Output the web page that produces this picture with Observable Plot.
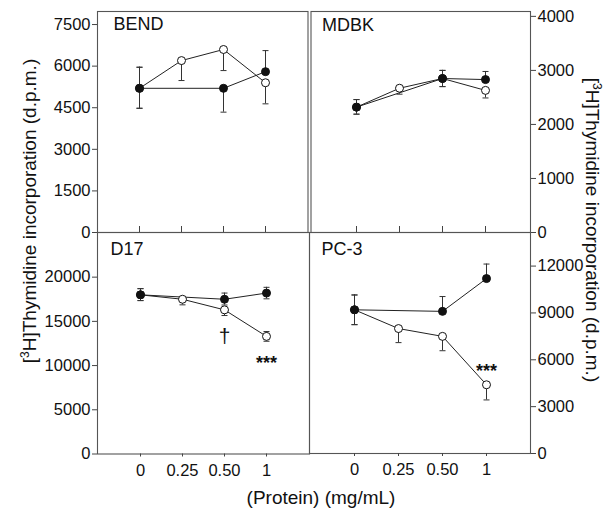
<!DOCTYPE html>
<html><head><meta charset="utf-8">
<script src="https://cdn.jsdelivr.net/npm/d3@7"></script>
<script src="https://cdn.jsdelivr.net/npm/@observablehq/plot@0.6"></script>
<style>
html,body{margin:0;padding:0;background:#fff;}
#chart{position:relative;width:610px;height:508px;font-family:"Liberation Sans",Arial,Helvetica,sans-serif;color:#111;background:#fff;}
#chart svg{position:absolute;left:0;top:0;}
.t{position:absolute;white-space:nowrap;font-size:19px;line-height:1;color:#111;}
.t sup{font-size:12px;vertical-align:0;position:relative;top:-7px;}
</style></head><body>
<div id="chart"></div>
<script>
const doses = ["0", "0.25", "0.50", "1"];

// BEND (top-left)
const bendFilledDose = ["0", "0.50", "1"];
const bendFilled   = [5200, 5200, 5800];
const bendFilledLo = [4480, 4340, 5800];
const bendFilledHi = [5960, 5200, 6560];
const bendOpenDose = ["0", "0.25", "0.50", "1"];
const bendOpen   = [5200, 6200, 6600, 5400];
const bendOpenLo = [4480, 5480, 5840, 4640];
const bendOpenHi = [5960, 6200, 6600, 5400];
const bendTicks = [0, 1500, 3000, 4500, 6000, 7500];

// MDBK (top-right)
const mdbkFilledDose = ["0", "0.50", "1"];
const mdbkFilled   = [2320, 2850, 2830];
const mdbkFilledLo = [2190, 2700, 2830];
const mdbkFilledHi = [2460, 3000, 2980];
const mdbkOpenDose = ["0", "0.25", "0.50", "1"];
const mdbkOpen   = [2320, 2670, 2850, 2630];
const mdbkOpenLo = [2190, 2560, 2700, 2490];
const mdbkOpenHi = [2460, 2670, 3000, 2630];
const mdbkTicks = [0, 1000, 2000, 3000, 4000];

// D17 (bottom-left)
const d17FilledDose = ["0", "0.50", "1"];
const d17Filled   = [18000, 17500, 18200];
const d17FilledLo = [17350, 16850, 17550];
const d17FilledHi = [18700, 18200, 18850];
const d17OpenDose = ["0", "0.25", "0.50", "1"];
const d17Open   = [18000, 17500, 16300, 13300];
const d17OpenLo = [17350, 16870, 15660, 12750];
const d17OpenHi = [18700, 17500, 16300, 13850];
const d17Ticks = [0, 5000, 10000, 15000, 20000];
const d17NoteDose = ["0.50", "1"];
const d17NoteY = [13300, 10300];
const d17NoteText = ["†", "***"];

// PC-3 (bottom-right)
const pc3FilledDose = ["0", "0.50", "1"];
const pc3Filled   = [9200, 9100, 11200];
const pc3FilledLo = [8250, 9100, 11200];
const pc3FilledHi = [10150, 10050, 12130];
const pc3OpenDose = ["0", "0.25", "0.50", "1"];
const pc3Open   = [9200, 8000, 7500, 4400];
const pc3OpenLo = [8250, 7100, 6580, 3430];
const pc3OpenHi = [10150, 8000, 7500, 4400];
const pc3Ticks = [0, 3000, 6000, 9000, 12000];
const pc3NoteDose = ["1"];
const pc3NoteY = [5250];
const pc3NoteText = ["***"];

const W = 610, H = 508;
const FONT = '"Liberation Sans", Arial, Helvetica, sans-serif';

// horizontal-line symbol for error-bar caps (half-width = r)
const capSymbol = {
  draw(ctx, size) {
    const w = Math.sqrt(size / Math.PI);
    ctx.moveTo(-w, 0);
    ctx.lineTo(w, 0);
  }
};

function rows(dose, v, lo, hi) {
  return dose.map((d, i) => ({dose: d, v: v[i], lo: lo[i], hi: hi[i]}));
}
function caps(rs) {
  const out = [];
  rs.forEach(r => {
    if (r.lo < r.v) out.push({dose: r.dose, y: r.lo});
    if (r.hi > r.v) out.push({dose: r.dose, y: r.hi});
  });
  return out;
}

function panel(o) {
  const filled = rows(o.fd, o.fv, o.flo, o.fhi);
  const open = rows(o.od, o.ov, o.olo, o.ohi);
  const all = open.concat(filled);
  const notes = (o.nd || []).map((d, i) => ({dose: d, y: o.ny[i], text: o.nt[i]}));
  const marks = [
    Plot.frame({stroke: "#555", strokeWidth: 1.1}),
    Plot.axisY({anchor: o.yAnchor, ticks: o.yTicks, tickFormat: d => String(d), tickSize: 5, tickPadding: 2, fontSize: 16.5, label: null, stroke: "#444"}),
    Plot.line(filled, {x: "dose", y: "v", stroke: "#222", strokeWidth: 1}),
    Plot.line(open, {x: "dose", y: "v", stroke: "#222", strokeWidth: 1}),
    Plot.ruleX(all.filter(d => d.hi > d.lo), {x: "dose", y1: "lo", y2: "hi", stroke: "#333", strokeWidth: 1}),
    Plot.dot(caps(all), {x: "dose", y: "y", r: 3, symbol: capSymbol, fill: "none", stroke: "#333", strokeWidth: 1}),
    Plot.dot(open, {x: "dose", y: "v", r: 4, fill: "white", stroke: "#111", strokeWidth: 1}),
    Plot.dot(filled, {x: "dose", y: "v", r: 4, fill: "#111", stroke: "#111", strokeWidth: 1}),
    Plot.text([o.label], {frameAnchor: "top-left", text: d => d, textAnchor: "start", lineAnchor: "top", dx: o.ldx, dy: o.ldy, fontSize: 18, fill: "#111"}),
    Plot.text(notes.filter(d => d.text === "†"), {x: "dose", y: "y", text: "text", lineAnchor: "middle", fontSize: 21, fill: "#111"}),
    Plot.text(notes.filter(d => d.text !== "†"), {x: "dose", y: "y", text: "text", lineAnchor: "middle", fontSize: 18, fontWeight: "bold", fill: "#111"})
  ];
  if (o.bottomAxis) {
    marks.push(Plot.axisX({anchor: "bottom", ticks: doses, tickSize: 3, tickPadding: 7, fontSize: 16.5, label: null, stroke: "#444"}));
  } else {
    marks.push(Plot.ruleX(doses, {x: d => d, insetTop: (o.bottom - o.top) - 6, stroke: "#444", strokeWidth: 1}));
  }
  return Plot.plot({
    width: W, height: H,
    marginLeft: o.left, marginRight: W - o.right, marginTop: o.top, marginBottom: H - o.bottom,
    style: {background: "transparent", overflow: "visible", fontFamily: FONT, fontSize: "16px", color: "#111"},
    x: {type: "point", domain: doses, padding: 1, axis: o.bottomAxis ? undefined : null},
    y: {domain: o.yDomain},
    marks
  });
}

const chart = document.getElementById("chart");
chart.append(panel({left: 97, right: 307.5, top: 11, bottom: 232, yDomain: [0, 7970], yTicks: bendTicks, yAnchor: "left",
  fd: bendFilledDose, fv: bendFilled, flo: bendFilledLo, fhi: bendFilledHi,
  od: bendOpenDose, ov: bendOpen, olo: bendOpenLo, ohi: bendOpenHi, label: "BEND", ldx: 16, ldy: 6}));
chart.append(panel({left: 310.5, right: 530, top: 11, bottom: 232, yDomain: [0, 4090], yTicks: mdbkTicks, yAnchor: "right",
  fd: mdbkFilledDose, fv: mdbkFilled, flo: mdbkFilledLo, fhi: mdbkFilledHi,
  od: mdbkOpenDose, ov: mdbkOpen, olo: mdbkOpenLo, ohi: mdbkOpenHi, label: "MDBK", ldx: 11, ldy: 7}));
chart.append(panel({left: 97, right: 309, top: 232, bottom: 453.5, yDomain: [0, 25050], yTicks: d17Ticks, yAnchor: "left", bottomAxis: true,
  fd: d17FilledDose, fv: d17Filled, flo: d17FilledLo, fhi: d17FilledHi,
  od: d17OpenDose, ov: d17Open, olo: d17OpenLo, ohi: d17OpenHi, label: "D17", ldx: 13, ldy: 10,
  nd: d17NoteDose, ny: d17NoteY, nt: d17NoteText}));
chart.append(panel({left: 309, right: 530, top: 232, bottom: 453, yDomain: [0, 14150], yTicks: pc3Ticks, yAnchor: "right", bottomAxis: true,
  fd: pc3FilledDose, fv: pc3Filled, flo: pc3FilledLo, fhi: pc3FilledHi,
  od: pc3OpenDose, ov: pc3Open, olo: pc3OpenLo, ohi: pc3OpenHi, label: "PC-3", ldx: 12, ldy: 10,
  nd: pc3NoteDose, ny: pc3NoteY, nt: pc3NoteText}));

function addText(html, x, y, rot) {
  const d = document.createElement("div");
  d.className = "t";
  d.innerHTML = html;
  d.style.left = x + "px";
  d.style.top = y + "px";
  d.style.transform = "translate(-50%,-50%)" + (rot ? ` rotate(${rot}deg)` : "");
  chart.append(d);
}
addText("[<sup>3</sup>H]Thymidine incorporation (d.p.m.)", 29, 211, -90);
addText("[<sup>3</sup>H]Thymidine incorporation (d.p.m.)", 592, 230, 90);
addText("(Protein) (mg/mL)", 321, 497, 0);
</script>
</body></html>
